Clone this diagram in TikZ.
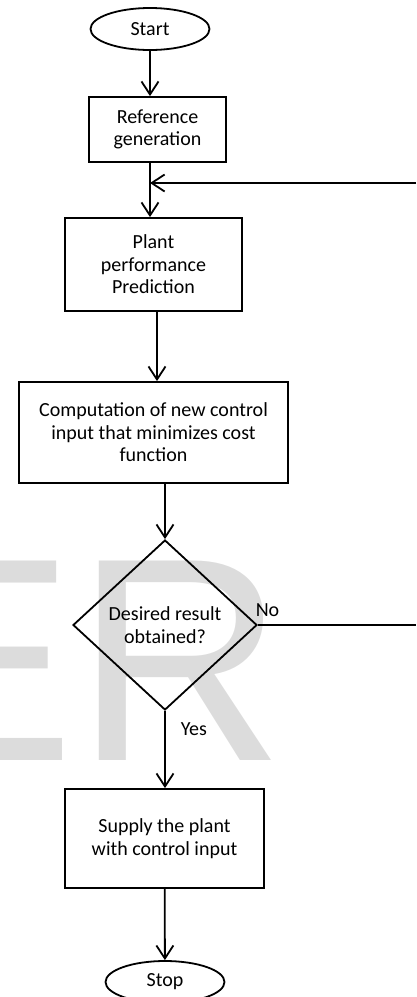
\documentclass[tikz,border=0pt]{standalone}
\usepackage{fontspec}
\setmainfont{Carlito}
\newfontfamily\markfont{Liberation Sans}
\usetikzlibrary{shapes.geometric,arrows.meta}
\definecolor{markgray}{RGB}{220,220,220}
\begin{document}
\begin{tikzpicture}
		[x=1pt,y=-1pt,
		line width=1.8pt,
		>={Straight Barb[length=13pt,width=17pt]},
		every node/.style={font=\fontsize{20}{22.5}\selectfont,align=center},
		terminal/.style={draw,ellipse,minimum width=119pt,
			minimum height=42pt,inner sep=0pt},
		process/.style={draw,rectangle,inner sep=0pt},
		decision/.style={draw,diamond,minimum width=184pt,
			minimum height=170pt,inner sep=0pt},
		answer/.style={inner sep=1pt}]
		\clip (0,0) rectangle (416,997);
		\node[anchor=base west,inner sep=0pt,text=markgray,
			font=\markfont\fontsize{290}{290}\selectfont] (mark) at (-119,760) {ER};
		\node[terminal] (start) at (150,29) {Start};
		\node[process,minimum width=137pt,minimum height=65pt] (refgen)
			at (157.5,129.5) {Reference\\generation};
		\node[process,minimum width=177pt,minimum height=93pt] (plant)
			at (153.5,264.5) {Plant\\performance\\Prediction};
		\node[process,minimum width=269pt,minimum height=101pt] (compute)
			at (153.5,432.5) {Computation of new control\\input that minimizes cost\\function};
		\node[decision] (desired) at (165,625) {Desired result\\obtained?};
		\node[process,minimum width=199pt,minimum height=99pt] (supply)
			at (164.5,838.5) {Supply the plant\\with control input};
		\node[terminal] (stop) at (165,982) {Stop};
		\coordinate (loopend) at (416,183);
		\coordinate (noend) at (416,625);
		\draw[->] (start) -- (start |- refgen.north);
		\draw[->] (start.south |- refgen.south) -- (start.south |- plant.north);
		\draw[->] (loopend) -- (loopend -| start.south);
		\draw[->] ([xshift=3.5pt]plant.south)
			-- ([xshift=3.5pt]plant.south |- compute.north);
		\draw[->] (compute.south -| desired.north) -- (desired.north);
		\draw (desired.east) -- node[answer,pos=0,anchor=south west,
			xshift=-4pt,yshift=6pt] {No} (noend);
		\draw[->] (desired.south) -- node[answer,pos=0.23,anchor=west,
			xshift=14pt] {Yes} (desired.south |- supply.north);
		\draw[->] (supply) -- (stop);
	\end{tikzpicture}
\end{document}
